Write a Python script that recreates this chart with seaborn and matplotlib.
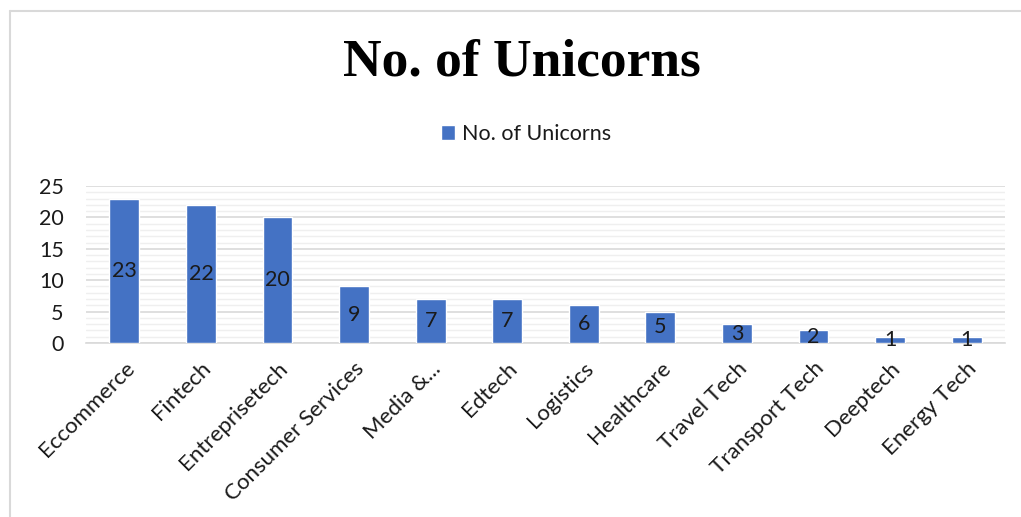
import numpy as np
import pandas as pd
import seaborn as sns
import matplotlib.pyplot as plt
from matplotlib.lines import Line2D
from matplotlib.ticker import MultipleLocator

# data
sectors = ['Eccommerce', 'Fintech', 'Entreprisetech', 'Consumer Services', 'Media &...',
           'Edtech', 'Logistics', 'Healthcare', 'Travel Tech', 'Transport Tech',
           'Deeptech', 'Energy Tech']
unicorns = [23, 22, 20, 9, 7, 7, 6, 5, 3, 2, 1, 1]

df = pd.DataFrame({'sector': sectors, 'count': unicorns})

sns.set_style('white')
plt.rcParams['font.family'] = ['Lato', 'DejaVu Sans']
txt = '#1a1a1a'

fig = plt.figure(figsize=(10.21, 5.17), dpi=100)
ax = fig.add_axes([86 / 1021, 1 - 343 / 517, (1005 - 86) / 1021, (343 - 186) / 517])

sns.barplot(data=df, x='sector', y='count', color='#4472C4', width=0.39,
            saturation=1, ax=ax, label='No. of Unicorns', zorder=3)

# value labels in the middle of each bar
for i, v in enumerate(unicorns):
    ax.text(i, v / 2, str(v), ha='center', va='center', fontsize=15.5, color=txt, zorder=4)

ax.set_ylim(0, 25)
ax.set_xlim(-0.5, len(sectors) - 0.5)
ax.yaxis.set_major_locator(MultipleLocator(5))
ax.yaxis.set_minor_locator(MultipleLocator(1))
ax.grid(axis='y', which='major', color='#d9d9d9', linewidth=1.2, zorder=0)
ax.grid(axis='y', which='minor', color='#efefef', linewidth=1.0, zorder=0)
ax.set_axisbelow(True)
for s in ['top', 'right', 'left']:
    ax.spines[s].set_visible(False)
ax.spines['bottom'].set_color('#d9d9d9')
ax.spines['bottom'].set_linewidth(1.2)
ax.tick_params(axis='both', which='both', length=0, labelcolor=txt)
ax.tick_params(axis='y', labelsize=15.5, pad=16)
ax.set_xlabel('')
ax.set_ylabel('')
ax.set_xticks(range(len(sectors)))
ax.set_xticklabels(sectors, rotation=45, ha='right', rotation_mode='anchor', fontsize=16)
ax.tick_params(axis='x', pad=11)
if ax.get_legend():
    ax.get_legend().remove()

# title and legend
fig.text(522 / 1021, 1 - 63 / 517, 'No. of Unicorns', ha='center', va='center', color='black',
         fontsize=38.5, fontweight='bold', family=['Liberation Serif', 'DejaVu Serif'])
handles, labels = ax.get_legend_handles_labels()
leg = fig.legend(handles[:1], labels[:1], loc='center', bbox_to_anchor=(526 / 1021, 1 - 134 / 517),
                 frameon=False, fontsize=15.5, handlelength=0.65, handleheight=0.65, handletextpad=0.3)
for t in leg.get_texts():
    t.set_color(txt)

# chart frame
fig.add_artist(Line2D([9.5 / 1021, 1], [1 - 10.5 / 517, 1 - 10.5 / 517], color='#d9d9d9', lw=1.5))
fig.add_artist(Line2D([9.5 / 1021, 9.5 / 1021], [0, 1 - 10.5 / 517], color='#d9d9d9', lw=1.5))

fig.savefig('out.png', dpi=100)
